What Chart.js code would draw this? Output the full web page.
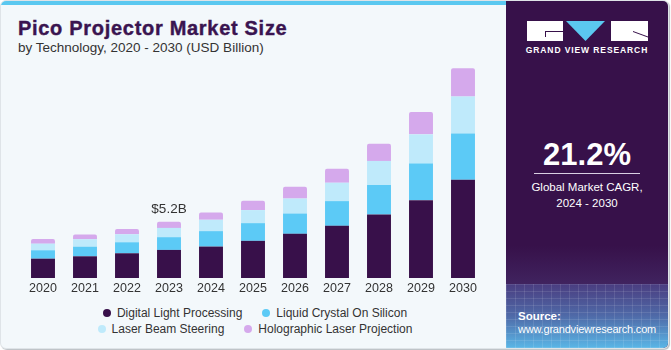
<!DOCTYPE html>
<html>
<head>
<meta charset="utf-8">
<script src="https://cdn.jsdelivr.net/npm/chart.js@4.4.1/dist/chart.umd.min.js"></script>
<style>
  body { margin: 0; width: 671px; height: 350px; background: #fff; font-family: "Liberation Sans", Arial, sans-serif; overflow: hidden; }
  .card { position: absolute; left: 0; top: 0; width: 667px; height: 347px; border: 1px solid #dfe4e8; border-radius: 6px; overflow: hidden; background: #f3f8fb; box-shadow: 1px 1px 1px #b9bec3; }
  .topbar { position: absolute; left: 0; top: 0; width: 506px; height: 4px; background: #5bc8f0; }
  .title { position: absolute; left: 17px; top: 17.4px; font-size: 20px; line-height: 20px; font-weight: bold; color: #3a1450; letter-spacing: 0.7px; white-space: nowrap; -webkit-text-stroke: 0.4px #3a1450; }
  .subtitle { position: absolute; left: 17px; top: 40.2px; font-size: 13.5px; line-height: 13.5px; color: #333; white-space: nowrap; }
  .chartbox { position: absolute; left: -1px; top: 61px; width: 506px; height: 237px; }
  .legend { position: absolute; left: 81px; top: 303.7px; width: 346px; display: flex; flex-wrap: wrap; justify-content: center; }
  .legend .item { display: flex; align-items: center; margin: 0 10px; height: 16.3px; font-size: 12px; color: #333; white-space: nowrap; }
  .legend .dot { width: 8px; height: 8px; border-radius: 50%; margin-right: 6px; }
  .panel { position: absolute; left: 505px; top: 0; width: 162px; height: 347px; background: #37114a; color: #fff; }
  .panel .fade { position: absolute; left: 0; right: 0; top: 245px; height: 38px; background: linear-gradient(#37114a, #40235f); }
  .panel .floor { position: absolute; left: 0; right: 0; top: 283px; bottom: 0;
    background:
      repeating-linear-gradient(90deg, rgba(255,255,255,0.10) 0 1px, transparent 1px 9px),
      repeating-linear-gradient(0deg, rgba(255,255,255,0.10) 0 1px, transparent 1px 7px),
      linear-gradient(#4a3d80, #4f6aa8 50%, #5ab6e6); }
  .panel .logo { position: absolute; left: 21px; top: 19px; }
  .panel .brand { position: absolute; left: 0; width: 162px; top: 45.2px; text-align: center; font-size: 8.5px; line-height: 8.5px; font-weight: bold; letter-spacing: 0.9px; }
  .panel .cagr { position: absolute; left: 0; width: 162px; top: 138px; text-align: center; font-size: 31px; line-height: 31px; font-weight: bold; }
  .panel .rule { position: absolute; left: 28px; width: 106px; top: 172px; height: 1px; background: #d9cfe2; }
  .panel .cagrtxt { position: absolute; left: 0; width: 162px; top: 177.5px; text-align: center; font-size: 11.5px; line-height: 16.7px; }
  .panel .src { position: absolute; left: 12px; top: 309.5px; font-size: 11.5px; line-height: 11.5px; font-weight: bold; }
  .panel .url { position: absolute; left: 12px; top: 322.6px; font-size: 11px; line-height: 11px; letter-spacing: -0.2px; }
</style>
</head>
<body>
<div class="card">
  <div class="topbar"></div>
  <div class="title">Pico Projector Market Size</div>
  <div class="subtitle">by Technology, 2020 - 2030 (USD Billion)</div>
  <div class="chartbox"><canvas id="barChart"></canvas></div>
  <div class="legend" id="legend"></div>
  <div class="panel">
    <div class="fade"></div>
    <div class="floor"></div>
    <svg class="logo" width="122" height="22" viewBox="0 0 122 22">
      <path d="M0 1 H36 V21 H0 Z M18 11 H36 V12 H19 V17 H18 Z" fill="#fff" fill-rule="evenodd"/>
      <path d="M39 1 H78 L58.5 21 Z" fill="#5bc8f0"/>
      <path d="M84 1 H121 V21 H84 Z" fill="#fff"/>
      <path d="M106 11 L121 16.5 V17.5 L106 12 Z" fill="#37114a"/>
    </svg>
    <div class="brand">GRAND VIEW RESEARCH</div>
    <div class="cagr">21.2%</div>
    <div class="rule"></div>
    <div class="cagrtxt">Global Market CAGR,<br>2024 - 2030</div>
    <div class="src">Source:</div>
    <div class="url">www.grandviewresearch.com</div>
  </div>
</div>
<script>
const years = ['2020', '2021', '2022', '2023', '2024', '2025', '2026', '2027', '2028', '2029', '2030'];
const digitalLight = [1.79, 2.01, 2.29, 2.60, 2.91, 3.44, 4.09, 4.83, 5.88, 7.21, 9.10];
const liquidCrystal = [0.78, 0.89, 1.02, 1.18, 1.43, 1.64, 1.88, 2.29, 2.73, 3.40, 4.27];
const laserBeam = [0.61, 0.69, 0.74, 0.86, 1.05, 1.21, 1.39, 1.70, 2.23, 2.69, 3.44];
const holographic = [0.44, 0.43, 0.49, 0.56, 0.68, 0.86, 1.09, 1.30, 1.58, 2.08, 2.60];

// total label over 2023
const calloutIndex = 3;
const calloutText = '$5.2B';

const calloutPlugin = {
    id: 'callout',
    afterDatasetsDraw(chart) {
        const meta = chart.getDatasetMeta(chart.data.datasets.length - 1);
        const bar = meta.data[calloutIndex];
        const ctx = chart.ctx;
        ctx.save();
        ctx.font = '13.5px "Liberation Sans", Arial, sans-serif';
        ctx.fillStyle = '#333';
        ctx.textAlign = 'center';
        ctx.textBaseline = 'alphabetic';
        ctx.fillText(calloutText, bar.x, bar.y - 9);
        ctx.restore();
    }
};

var ctx = document.getElementById('barChart').getContext('2d');
var myChart = new Chart(ctx, {
    type: 'bar',
    data: {
        labels: years,
        datasets: [
            { label: 'Digital Light Processing', data: digitalLight, backgroundColor: '#38104a' },
            { label: 'Liquid Crystal On Silicon', data: liquidCrystal, backgroundColor: '#5ccaf6' },
            { label: 'Laser Beam Steering', data: laserBeam, backgroundColor: '#bfeafb' },
            { label: 'Holographic Laser Projection', data: holographic, backgroundColor: '#d5a9ec',
              borderRadius: { topLeft: 2, topRight: 2 } }
        ]
    },
    options: {
        responsive: true,
        maintainAspectRatio: false,
        animation: false,
        layout: { padding: { left: 22, right: 22, top: 0, bottom: 0 } },
        datasets: { bar: { categoryPercentage: 1, barPercentage: 0.57, borderWidth: 0 } },
        scales: {
            x: {
                stacked: true,
                grid: { display: false, drawTicks: false },
                border: { display: false },
                ticks: { color: '#333', padding: 3, font: { size: 12.5, family: '"Liberation Sans", Arial, sans-serif' } }
            },
            y: { stacked: true, display: false, min: 0, max: 20 }
        },
        plugins: {
            legend: { display: false },
            tooltip: { enabled: false }
        }
    },
    plugins: [calloutPlugin]
});

// html legend from the datasets
var legend = document.getElementById('legend');
myChart.data.datasets.forEach(function (ds) {
    var item = document.createElement('div');
    item.className = 'item';
    var dot = document.createElement('span');
    dot.className = 'dot';
    dot.style.background = ds.backgroundColor;
    item.appendChild(dot);
    item.appendChild(document.createTextNode(ds.label));
    legend.appendChild(item);
});
</script>
</body>
</html>
